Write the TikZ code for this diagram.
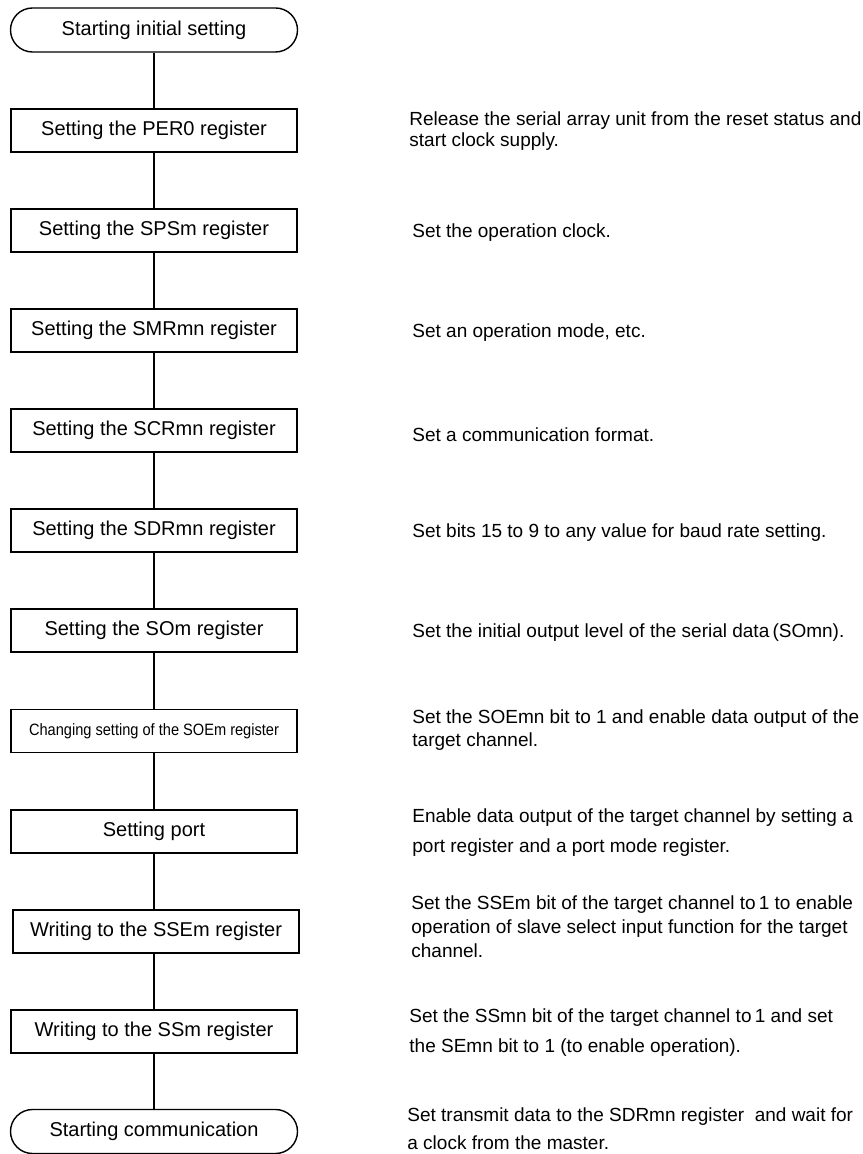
\documentclass[tikz,border=0pt]{standalone}
\usepackage{fontspec}
\setmainfont{Liberation Sans}
\usetikzlibrary{calc}

\begin{document}
\begin{tikzpicture}[
    x=0.5pt, y=-0.5pt,
    box/.style={rectangle, draw=black, line width=0.7pt, fill=white, text centered, minimum height=21.5pt, minimum width=143pt, inner sep=0pt, font=\fontsize{10}{12}\selectfont},
    term/.style={box, rounded corners=11pt, minimum height=22pt, minimum width=143.5pt},
    desc/.style={anchor=west, align=left, inner sep=0pt, font=\fontsize{9.5}{12}\selectfont}
]
    \useasboundingbox (0,0) rectangle (862,1154);

    % Start and end
    \node[term] (start) at (154, 30) {Starting initial setting};
    \node[term] (comm) at (154, 1131.5) {Starting communication};

    % Register steps
    \node[box] (per) at (154, 130.5) {Setting the PER0 register};
    \node[box] (sps) at (154, 230.5) {Setting the SPSm register};
    \node[box] (smr) at (154, 330.5) {Setting the SMRmn register};
    \node[box] (scr) at (154, 430.5) {Setting the SCRmn register};
    \node[box] (sdr) at (154, 530.5) {Setting the SDRmn register};
    \node[box] (som) at (154, 630.5) {Setting the SOm register};
    \node[box] (soe) at (154, 731) {\fontsize{8.2}{10}\selectfont\scalebox{0.89}[1]{Changing setting of the SOEm register}};
    \node[box] (port) at (154, 831.5) {Setting port};
    \node[box] (sse) at (156, 931.5) {Writing to the SSEm register};
    \node[box] (ssm) at (154, 1031.5) {Writing to the SSm register};

    % Flow lines
    \foreach \a/\b in {start/per, per/sps, sps/smr, smr/scr, scr/sdr, sdr/som, som/soe, soe/port, port/sse, sse/ssm, ssm/comm}
        \draw[line width=0.7pt] (\a.south -| start.south) -- (\b.north -| start.south);

    % Notes on the right
    \node[desc, font=\fontsize{9.5}{10.5}\selectfont] (per_txt) at (409, 131) {Release the serial array unit from the reset status and\\start clock supply.};
    \node[desc] (sps_txt) at (412, 233) {Set the operation clock.};
    \node[desc] (smr_txt) at (412, 333) {Set an operation mode, etc.};
    \node[desc] (scr_txt) at (412, 435) {Set a communication format.};
    \node[desc] (sdr_txt) at (412, 533) {Set bits 15 to 9 to any value for baud rate setting.};
    \node[desc] (som_txt) at (412, 633) {Set the initial output level of the serial data\,(SOmn).};
    \node[desc, font=\fontsize{9.5}{11.5}\selectfont] (soe_txt) at (412, 730) {Set the SOEmn bit to 1 and enable data output of the\\target channel.};
    \node[desc, font=\fontsize{9.5}{15}\selectfont] (port_txt) at (412, 833) {Enable data output of the target channel by setting a\\port register and a port mode register.};
    \node[desc] (sse_txt) at (411, 927) {Set the SSEm bit of the target channel to\,1 to enable\\operation of slave select input function for the target\\channel.};
    \node[desc, font=\fontsize{9.5}{15}\selectfont] (ssm_txt) at (409, 1033) {Set the SSmn bit of the target channel to\,1 and set\\the SEmn bit to 1 (to enable operation).};
    \node[desc, font=\fontsize{9.5}{14}\selectfont] (comm_txt) at (407, 1129) {Set transmit data to the SDRmn register\ \ and wait for\\a clock from the master.};
\end{tikzpicture}
\end{document}
